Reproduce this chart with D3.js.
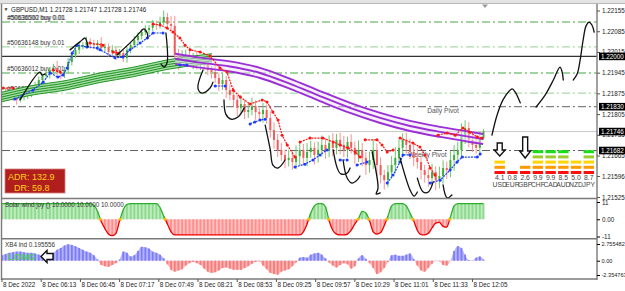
<!DOCTYPE html>
<html><head><meta charset="utf-8">
<script src="https://cdn.jsdelivr.net/npm/d3@7"></script>
<style>
html,body{margin:0;padding:0;background:#fff;}
svg{display:block;font-family:"Liberation Sans",Arial,sans-serif;}
</style></head><body>
<svg id="c" width="625" height="291"></svg>
<script>
// ---------------- DATA ----------------
const symbol = "GBPUSD,M1";
const headerOHLC = ["1.21728","1.21747","1.21728","1.21746"];
const firstOpen = 1.21866;
const closes = [1.21870,1.21880,1.21866,1.21859,1.21853,1.21863,1.21866,1.21876,1.21886,1.21900,
 1.21920,1.21934,1.21941,1.21954,1.21961,1.21947,1.21941,1.21954,1.21981,1.22005,
 1.22022,1.22035,1.22038,1.22049,1.22042,1.22038,1.22045,1.22028,1.22032,1.22015,
 1.22022,1.22005,1.22011,1.21995,1.22022,1.22038,1.22055,1.22069,1.22082,1.22089,
 1.22096,1.22109,1.22106,1.22116,1.22133,1.22109,1.22103,1.22005,1.21981,1.21995,
 1.22005,1.21981,1.21998,1.21974,1.21988,1.21981,1.21954,1.21947,1.21927,1.21907,
 1.21920,1.21886,1.21870,1.21853,1.21826,1.21839,1.21812,1.21819,1.21832,1.21812,
 1.21805,1.21819,1.21792,1.21751,1.21718,1.21684,1.21667,1.21650,1.21657,1.21643,
 1.21663,1.21684,1.21657,1.21677,1.21691,1.21667,1.21684,1.21701,1.21684,1.21707,
 1.21691,1.21718,1.21701,1.21684,1.21711,1.21691,1.21667,1.21684,1.21657,1.21633,
 1.21650,1.21684,1.21633,1.21599,1.21582,1.21609,1.21633,1.21657,1.21691,1.21718,
 1.21701,1.21677,1.21657,1.21643,1.21616,1.21599,1.21589,1.21609,1.21582,1.21596,
 1.21623,1.21616,1.21650,1.21667,1.21684,1.21734,1.21758,1.21718,1.21701,1.21691,
 1.21724,1.21746];
// wick lengths in points (0.00001)
const wickUp = [10,14,8,12,10,16,9,12,10,14, 12,8,18,10,14,24,12,10,14,12, 16,12,10,18,12,14,10,20,12,12,
 16,10,14,12,10,8,14,12,10,16, 10,14,12,18,22,14,28,34,20,26, 18,24,14,20,16,12,20,14,24,18,
 22,14,20,26,16,30,14,22,28,20, 14,24,18,22,26,20,24,18,28,22, 36,26,20,30,24,18,28,32,22,26,
 34,20,24,30,18,26,22,32,24,20, 28,36,22,26,18,24,30,36,28,22, 24,20,26,32,22,18,24,28,20,32,
 26,22,30,34,28,40,26,20,24,30, 22,8];
const wickDn = [12,9,14,10,16,8,12,10,14,9, 10,14,9,16,12,10,18,14,10,12, 9,14,12,10,16,12,18,10,14,16,
 12,18,10,14,16,12,10,14,12,10, 14,10,16,12,10,18,14,20,26,18, 22,16,24,18,20,26,18,22,16,24,
 20,26,18,22,28,16,24,20,18,26, 22,28,20,26,30,24,20,28,22,26, 24,30,22,28,20,32,26,22,30,24,
 28,22,32,24,26,20,30,24,28,34, 26,30,36,28,32,24,22,28,20,26, 30,24,28,22,32,26,30,24,34,28,
 26,30,24,36,28,22,30,26,24,20, 18,6];

// moving-average ribbons: [bar, price]
const greenMA = [[0,1.21863],[7.6,1.21884],[17.7,1.21903],[26.7,1.21928],[35.6,1.21947],[44.9,1.21972],[53.9,1.21988],[57.1,1.21993]];
const greenOffsets = [-0.00016,-0.00008,0,0.00008,0.00016];
const purpleMA = [[47.1,1.21992],[53.9,1.21979],[62.0,1.21966],[70.2,1.21944],[78.4,1.21907],[86.5,1.21866],[94.7,1.21826],[102.9,1.21792],[111.0,1.21765],[119.2,1.21745],[127.3,1.21728],[130.9,1.21721]];
const purpleOffsets = [-0.00017,0,0.00017];

// trailing lines: segments of [bar, price]
const redTrail = [
 [[0.3,1.21893],[3,1.21893]],
 [[13.9,1.21954],[15.8,1.21947]],
 [[23.9,1.22045],[27.5,1.22038]],
 [[30.2,1.22015],[31.6,1.22011]],
 [[41.1,1.22109],[43.0,1.22106],[44.9,1.22096],[46.5,1.22082],[48.4,1.22062],[49.8,1.22038],[51.2,1.22022],[53.9,1.22015],[56.6,1.22001],[59.3,1.21961],[61.2,1.21947],[62.9,1.21886],[64.8,1.21863],[67.5,1.21839],[70.8,1.21853],[72.1,1.21846],[73.7,1.21812],[75.1,1.21785],[76.2,1.21734],[77.6,1.21701],[79.7,1.21660]],
 [[81.1,1.21711],[83.8,1.21724],[87.3,1.21724],[90.1,1.21711],[92.0,1.21701],[94.1,1.21691],[96.1,1.21677],[97.4,1.21660]],
 [[98.8,1.21718],[102.0,1.21718],[103.4,1.21701],[104.8,1.21677],[106.4,1.21684]],
 [[108.3,1.21724],[111.8,1.21707],[113.7,1.21694],[115.1,1.21667],[116.5,1.21623],[117.8,1.21599]],
 [[118.6,1.21734],[121.1,1.21741],[123.3,1.21734],[125.4,1.21758],[127.3,1.21744],[129.3,1.21728],[130.6,1.21724]]
];
const blueTrail = [
 [[3.5,1.21856],[8.4,1.21886],[11.2,1.21913],[13.1,1.21944],[15.2,1.21930],[16.6,1.21937],[17.7,1.21961],[19.1,1.22011],[20.4,1.22038],[23.1,1.22032],[25.9,1.22028],[26.7,1.22022],[30.7,1.21995],[32.9,1.21998],[34.8,1.22022],[37.6,1.22045],[39.5,1.22062],[41.1,1.22079],[43.8,1.22079]],
 [[48.4,1.21971],[50.3,1.21971]],
 [[58.0,1.21900],[60.7,1.21900]],
 [[67.5,1.21772],[68.8,1.21778],[70.2,1.21785],[71.6,1.21788]],
 [[79.7,1.21626],[82.4,1.21636],[84.6,1.21650],[86.5,1.21667],[88.4,1.21684]],
 [[92.0,1.21650],[93.9,1.21650]],
 [[96.6,1.21633],[99.3,1.21643]],
 [[104.8,1.21572],[106.4,1.21599],[108.3,1.21643],[109.1,1.21667],[111.0,1.21667]],
 [[116.5,1.21572],[119.2,1.21582],[121.9,1.21616],[123.8,1.21643],[125.2,1.21660],[129.3,1.21660],[130.1,1.21670]]
];
// hand-drawn strokes: [bar, price]
const scribbles = [
 [[4.9,1.21853],[10.3,1.21947],[10.9,1.21937],[11.7,1.21941]],
 [[18.5,1.22022],[21.2,1.22049],[22.6,1.22062],[23.1,1.22049],[23.4,1.22032]],
 [[31.3,1.22005],[35.6,1.22055],[37.6,1.22082],[38.6,1.22093],[39.5,1.22079],[39.7,1.22062]],
 [[44.6,1.22079],[44.9,1.21978],[44.1,1.21964],[43.3,1.21974]],
 [[54.7,1.21954],[53.3,1.21893],[54.4,1.21876],[56.6,1.21893],[57.4,1.21913]],
 [[60.4,1.21853],[60.9,1.21805],[62.3,1.21788],[64.2,1.21795],[65.9,1.21826]],
 [[71.6,1.21768],[73.0,1.21684],[73.7,1.21633],[75.1,1.21623],[77.0,1.21650]],
 [[90.1,1.21684],[91.2,1.21623],[92.2,1.21603],[93.9,1.21606],[94.7,1.21623]],
 [[92.8,1.21650],[93.9,1.21589],[95.2,1.21572],[96.6,1.21582],[97.4,1.21596]],
 [[100.7,1.21677],[102.3,1.21555],[101.8,1.21535],[102.9,1.21539]],
 [[108.3,1.21657],[111.0,1.21549],[112.1,1.21528],[113.0,1.21542]],
 [[113.0,1.21589],[114.6,1.21542],[116.0,1.21542],[117.3,1.21576]],
 [[120.0,1.21566],[121.1,1.21522],[122.4,1.21532]],
 [[133.3,1.21734],[134.7,1.21802],[136.3,1.21853],[138.0,1.21883],[138.8,1.21890],[139.6,1.21880],[141.0,1.21843]],
 [[145.3,1.21829],[147.8,1.21870],[150.0,1.21920],[151.8,1.21964],[152.4,1.21947],[152.7,1.21920]],
 [[155.4,1.21920],[156.5,1.21941],[157.3,1.21988],[158.1,1.22055],[158.9,1.22103],[159.7,1.22116],[160.5,1.22106],[161.1,1.22082]]
];

const orderPrices = [1.22116,1.22032,1.21944,1.21876];
const orderLabels = ["#50636500 buy 0.01","#50636148 buy 0.01","#50636012 buy 0.01","#50635876 buy 0.01"];
const orderKinds = ["dark","light","dark","light"];
const roundLevel = 1.22000;
const bidPrice = 1.21746;
const pivotPrices = [1.21830,1.21682];
const pivotNames = ["Daily Pivot","Weekly Pivot"];
const pivotLabelBars = [120.0,115.7];

const priceTicks = [1.22155,1.22085,1.22015,1.21945,1.21875,1.21805,1.21735,1.21665,1.21596,1.21525];
const markerPrices = [1.22000,1.21830,1.21746,1.21682];

const timeLabels = ["8 Dec 2022","8 Dec 06:13","8 Dec 06:45","8 Dec 07:17","8 Dec 07:49","8 Dec 08:21","8 Dec 08:53","8 Dec 09:25","8 Dec 09:57","8 Dec 10:29","8 Dec 11:01","8 Dec 11:33","8 Dec 12:05"];
const timeLabelMinutes = [0,32,64,96,128,160,192,224,256,288,320,352,384];
const barMinutes = 3;

const solarWind = [10,10,10,10,10,10,10,10,10,10, 10,10,10,10,10,10,10,10,10,10, 10,10,10,10,10,9,5,-1.5,-6,-9.5,
 -10.5,-9,-1,6,9.5,10,10,10,10,10, 10,10,10,7.5,2,-3,-8,-10,-10,-10,
 -10,-10,-10,-10,-10,-10,-10,-10,-10,-10, -10,-10,-10,-10,-10,-10,-10,-10,-10,-10,
 -10,-10,-10,-10,-10,-10,-10,-10,-10,-10, -10,-10,-8,-3,4,8.5,10,10,8,-1,
 -7,-9.5,-10,-10,-9.5,-7,-3,0.5,5,4, -1,-8,-9.5,-8.5,-4,2,8.5,10,10,10,
 8.5,4,-1,-7,-9.8,-10,-9,-5.5,-2.5,-2, -4.5,-5,1.5,8.5,10,10,10,10,10,10, 10,10];
const solarLabel = "Solar wind joy () 10.0000 10.0000 10.0000";
const solarTicks = [11,0,-11];
const solarTickLabels = ["11","0.00","-11"];

const xb4 = [0.9,1.1,1.3,1.4,1.5,1.5,1.4,1.3,1.3,1.2,
 1.0,0.8,0.5,0.8,1.3,1.8,2.1,2.5,2.7,2.6,
 2.4,2.1,1.8,1.5,1.3,0.9,0.2,-0.7,-0.9,-1.0,
 -0.7,-0.4,0.2,1.5,1.3,0.7,0.9,1.6,2.3,2.2,
 2.0,1.5,1.3,1.0,0.4,-0.6,-1.5,-1.8,-1.6,-1.4,
 -0.8,-0.4,-0.2,-0.4,-0.7,-1.3,-1.8,-2.0,-1.9,-1.6,
 -1.2,-1.1,-1.3,-1.5,-1.5,-1.5,-1.2,-0.9,-0.5,-0.2,
 -0.1,-0.8,-1.4,-2.0,-2.2,-2.3,-1.8,-1.6,-1.4,-0.9,
 -0.3,0.5,0.6,0.5,1.0,1.2,1.3,1.0,0.4,-0.3,
 -0.8,-1.1,-0.7,-0.4,-0.6,-1.3,-0.9,0.4,0.9,0.3,
 -0.4,-1.2,-2.2,-1.9,-1.2,-0.2,0.9,1.0,0.8,0.8,
 1.0,1.2,0.3,-0.8,-1.6,-1.8,-1.2,-0.5,-0.05,-0.1,
 -0.7,-0.8,0.0,1.6,2.4,2.1,1.0,0.1,0.05,0.5,
 0.7,0.195556];
const xb4Label = "XB4 ind 0.195556";
const xb4Range = [-2.354763,2.755482];
const xb4Ticks = [2.755482,0,-2.354763];
const xb4TickLabels = ["2.755482","0.00","-2.354763"];
const signalText = "LONG";

const adrLines = ["ADR: 132.9","DR: 59.8"];

const currencies = ["USD","EUR","GBP","CHF","CAD","AUD","NZD","JPY"];
const strength = [4.1,0.8,2.6,9.9,9.9,8.5,5.0,8.7];
const levelColors = ["#ff1010","#ff9a00","#ffd400","#9ccc30","#18e018"];
const arrowCurrencies = ["USD","GBP"];

// ---------------- DRAW ----------------
const svg = d3.select("#c");
const FONT = 6.3;
const x = d3.scaleLinear().domain([0,131]).range([2,483.5]);
const y = d3.scaleLinear().domain([1.21525,1.22155]).range([197,10.5]);
const ys = d3.scaleLinear().domain([-11,11]).range([236.5,202]);
const yx = d3.scaleLinear().domain(xb4Range).range([275,244]);

const defs = svg.append("defs");
defs.append("clipPath").attr("id","clipMain").append("rect").attr("x",2).attr("y",4).attr("width",595).attr("height",194);
defs.append("clipPath").attr("id","clipSolar").append("rect").attr("x",2).attr("y",199.5).attr("width",595).attr("height",38);
defs.append("clipPath").attr("id","clipSolarPos").append("rect").attr("x",0).attr("y",199).attr("width",600).attr("height",ys(0)-199);
defs.append("clipPath").attr("id","clipSolarNeg").append("rect").attr("x",0).attr("y",ys(0)).attr("width",600).attr("height",239-ys(0));

// window chrome
svg.append("rect").attr("x",0).attr("y",0).attr("width",625).attr("height",3).attr("fill","#e4e4e4");
svg.append("line").attr("x1",0).attr("x2",625).attr("y1",3.5).attr("y2",3.5).attr("stroke","#b8b8b8");

const main = svg.append("g").attr("clip-path","url(#clipMain)");
const dashDot = "8,3,2,3";

// horizontal levels
main.selectAll("line.order").data(orderPrices).join("line")
  .attr("x1",2).attr("x2",597).attr("y1",d=>y(d)).attr("y2",d=>y(d))
  .attr("stroke",(d,i)=>orderKinds[i]==="dark"?"#45a845":"#a9daa9").attr("stroke-width",1.1).attr("stroke-dasharray",dashDot);
main.selectAll("line.pivot").data(pivotPrices).join("line")
  .attr("x1",2).attr("x2",597).attr("y1",d=>y(d)).attr("y2",d=>y(d))
  .attr("stroke","#606060").attr("stroke-width",1).attr("stroke-dasharray",dashDot);
main.append("line").attr("x1",2).attr("x2",597).attr("y1",y(bidPrice)).attr("y2",y(bidPrice)).attr("stroke","#c8c8c8").attr("stroke-width",1);
main.append("line").attr("x1",2).attr("x2",597).attr("y1",y(roundLevel)).attr("y2",y(roundLevel)).attr("stroke","#333").attr("stroke-width",1.3);

// order labels
main.selectAll("text.order").data(orderPrices).join("text")
  .attr("x",7).attr("y",d=>y(d)-2).attr("font-size",FONT).attr("fill","#333")
  .text((d,i)=>orderLabels[i]);
main.append("text").attr("x",8).attr("y",y(orderPrices[0])-2.5).attr("font-size",FONT).attr("fill","#333").attr("opacity",0.7).text("#50636362 buy 0.01");
main.selectAll("text.pivot").data(pivotPrices).join("text")
  .attr("x",(d,i)=>x(pivotLabelBars[i])).attr("y",d=>y(d)+6.5).attr("font-size",FONT+0.4).attr("fill","#555")
  .attr("text-anchor","middle").text((d,i)=>pivotNames[i]);

// candles
const bars = closes.map((c,i)=>{const o=i?closes[i-1]:firstOpen;return {i,o,c,h:Math.max(o,c)+wickUp[i]*1e-5,l:Math.min(o,c)-wickDn[i]*1e-5};});
const cg = main.append("g");
cg.selectAll("line").data(bars).join("line")
  .attr("x1",d=>x(d.i)).attr("x2",d=>x(d.i)).attr("y1",d=>y(d.h)).attr("y2",d=>y(d.l))
  .attr("stroke",d=>d.c>=d.o?"#6cc46c":"#f79494").attr("stroke-width",1);
cg.selectAll("rect").data(bars).join("rect")
  .attr("x",d=>x(d.i)-1).attr("width",2)
  .attr("y",d=>y(Math.max(d.o,d.c))).attr("height",d=>Math.max(1,Math.abs(y(d.o)-y(d.c))))
  .attr("fill",d=>d.c>=d.o?"#3fae3f":"#f25c5c");

// ribbons
const smooth = d3.line().x(d=>x(d[0])).y(d=>y(d[1])).curve(d3.curveMonotoneX);
const shift = (pts,off)=>pts.map(p=>[p[0],p[1]+off]);
const ribbonArea = (pts,lo,hi)=>d3.area().x(d=>x(d[0])).y0(d=>y(d[1]+lo)).y1(d=>y(d[1]+hi)).curve(d3.curveMonotoneX)(pts);
main.append("path").attr("d",ribbonArea(greenMA,greenOffsets[0],greenOffsets[greenOffsets.length-1])).attr("fill","#a8dca8");
greenOffsets.forEach(o=>main.append("path").attr("d",smooth(shift(greenMA,o))).attr("fill","none").attr("stroke","#1f951f").attr("stroke-width",1));
main.append("path").attr("d",ribbonArea(purpleMA,purpleOffsets[0],purpleOffsets[purpleOffsets.length-1])).attr("fill","#f0e2f8").attr("opacity",0.5);
purpleOffsets.forEach(o=>main.append("path").attr("d",smooth(shift(purpleMA,o))).attr("fill","none").attr("stroke","#9a2fd6").attr("stroke-width",1.9));

// trailing lines
const lin = d3.line().x(d=>x(d[0])).y(d=>y(d[1]));
function trail(segs,color){
  segs.forEach(s=>{
    main.append("path").attr("d",lin(s)).attr("fill","none").attr("stroke",color).attr("stroke-width",1.2).attr("stroke-dasharray","2,1");
    main.selectAll(null).data(s).join("circle").attr("cx",d=>x(d[0])).attr("cy",d=>y(d[1])).attr("r",1.5).attr("fill",color);
  });
}
trail(redTrail,"#ff1414");
trail(blueTrail,"#1a3cff");

// hand-drawn strokes
const freehand = d3.line().x(d=>x(d[0])).y(d=>y(d[1])).curve(d3.curveCatmullRom.alpha(0.5));
scribbles.forEach(s=>main.append("path").attr("d",freehand(s)).attr("fill","none").attr("stroke","#111").attr("stroke-width",1.3).attr("stroke-linecap","round"));

// ADR box
svg.append("rect").attr("x",5).attr("y",169).attr("width",60).attr("height",24).attr("fill","#b01e1e").attr("stroke","#d88080").attr("stroke-width",0.8);
svg.selectAll("text.adr").data(adrLines).join("text")
  .attr("x",(d,i)=>i?14:8).attr("y",(d,i)=>180+i*11).attr("font-size",9).attr("fill","#ffd21a").text(d=>d);

// currency strength meter
const xb = d3.scaleBand().domain(currencies).range([494.5,594]).paddingInner(0.18);
const cells = [];
currencies.forEach((c,i)=>{const n=Math.min(5,Math.ceil(strength[i]/2));for(let r=0;r<n;r++)cells.push({c,r});});
svg.selectAll("rect.cell").data(cells).join("rect")
  .attr("x",d=>xb(d.c)).attr("width",xb.bandwidth()).attr("y",d=>171-d.r*5.2).attr("height",3)
  .attr("fill",d=>levelColors[d.r]);
svg.selectAll("text.str").data(strength).join("text")
  .attr("x",(d,i)=>xb(currencies[i])+xb.bandwidth()/2).attr("y",180).attr("text-anchor","middle")
  .attr("font-size",FONT+0.5).attr("fill","#444").text(d=>d.toFixed(1));
svg.selectAll("text.cur").data(currencies).join("text")
  .attr("x",d=>xb(d)+xb.bandwidth()/2).attr("y",187).attr("text-anchor","middle")
  .attr("font-size",FONT+0.5).attr("fill","#444").text(d=>d);
function downArrow(cx,top,neck,tip,sw,hw){
  return `M${cx-sw/2},${top}H${cx+sw/2}V${neck}H${cx+hw/2}L${cx},${tip}L${cx-hw/2},${neck}H${cx-sw/2}Z`;
}
arrowCurrencies.forEach((c,k)=>{
  const cx = xb(c)+xb.bandwidth()/2;
  const d = k===0 ? downArrow(cx,143,150,156,5,11) : downArrow(cx,137,151,158,5,11);
  svg.append("path").attr("d",d).attr("fill","#fff").attr("stroke","#111").attr("stroke-width",1.4).attr("stroke-linejoin","miter");
});

// top marker
svg.append("path").attr("d","M482,4.5H488L485,8Z").attr("fill","#9a9a9a");

// header
svg.append("text").attr("x",3.5).attr("y",11).attr("font-size",5).attr("fill","#333").text("▼");
svg.append("text").attr("x",11).attr("y",11.5).attr("font-size",FONT).attr("fill","#222")
  .text(symbol+"  "+headerOHLC.join(" "));

// ---- Solar wind panel ----
const solar = svg.append("g").attr("clip-path","url(#clipSolar)");
const sArea = d3.area().x((d,i)=>x(i)).y0(ys(0)).y1(d=>ys(d)).curve(d3.curveMonotoneX);
solar.append("path").attr("d",sArea(solarWind)).attr("fill","#bdecbd").attr("clip-path","url(#clipSolarPos)");
solar.append("path").attr("d",sArea(solarWind)).attr("fill","#ffc0c0").attr("clip-path","url(#clipSolarNeg)");
solar.selectAll("rect").data(solarWind).join("rect")
  .attr("x",(d,i)=>x(i)-0.9).attr("width",1.8)
  .attr("y",d=>Math.min(ys(d),ys(0))).attr("height",d=>Math.abs(ys(d)-ys(0)))
  .attr("fill",d=>d>=0?"#8fd88f":"#ff8e8e");
const sLine = d3.line().x((d,i)=>x(i)).y(d=>ys(d)).curve(d3.curveMonotoneX);
solar.append("path").attr("d",sLine(solarWind)).attr("fill","none").attr("stroke","#2cb02c").attr("stroke-width",1.3).attr("clip-path","url(#clipSolarPos)");
solar.append("path").attr("d",sLine(solarWind)).attr("fill","none").attr("stroke","#ee0000").attr("stroke-width",1.3).attr("clip-path","url(#clipSolarNeg)");
const crossings=[];
solarWind.forEach((v,i)=>{if(i&&Math.sign(v)!==Math.sign(solarWind[i-1])){const a=solarWind[i-1];crossings.push(i-1+a/(a-v));}});
solar.selectAll("circle").data(crossings).join("circle").attr("cx",d=>x(d)).attr("cy",ys(0)).attr("r",1.6).attr("fill","#ffb400");
svg.append("text").attr("x",5).attr("y",207).attr("font-size",FONT).attr("fill","#333").text(solarLabel);

// ---- XB4 panel ----
const xg = svg.append("g");
const xArea = d3.area().x((d,i)=>x(i)).y0(yx(0)).y1(d=>yx(d)).curve(d3.curveMonotoneX);
defs.append("clipPath").attr("id","clipXPos").append("rect").attr("x",0).attr("y",240).attr("width",600).attr("height",yx(0)-240);
defs.append("clipPath").attr("id","clipXNeg").append("rect").attr("x",0).attr("y",yx(0)).attr("width",600).attr("height",279-yx(0));
xg.append("path").attr("d",xArea(xb4)).attr("fill","#b4b4ff").attr("clip-path","url(#clipXPos)");
xg.append("path").attr("d",xArea(xb4)).attr("fill","#ffb4b4").attr("clip-path","url(#clipXNeg)");
xg.selectAll("rect").data(xb4).join("rect")
  .attr("x",(d,i)=>x(i)-0.9).attr("width",1.8)
  .attr("y",d=>Math.min(yx(d),yx(0))).attr("height",d=>Math.abs(yx(d)-yx(0)))
  .attr("fill",d=>d>=0?"#7c7cf4":"#f47c7c");
svg.append("text").attr("x",5).attr("y",247).attr("font-size",FONT).attr("fill","#333").text(xb4Label);
svg.append("text").attr("x",8).attr("y",259.5).attr("font-size",9.5).attr("fill","#40d840").attr("font-weight","bold").attr("opacity",0.85).text(signalText);
svg.append("path").attr("d","M41,256.5L47,250.5V253.5H53V259.5H47V262.5Z").attr("fill","#fff").attr("stroke","#111").attr("stroke-width",1.4);

// ---- frames ----
const frame = svg.append("g").attr("stroke","#7a7a7a").attr("stroke-width",1.4);
frame.append("line").attr("x1",597).attr("x2",597).attr("y1",4).attr("y2",280);
frame.append("line").attr("x1",1.5).attr("x2",1.5).attr("y1",4).attr("y2",280);
[198.5,238.8,279].forEach(v=>frame.append("line").attr("x1",1).attr("x2",597).attr("y1",v).attr("y2",v));

// ---- price axis ----
const ax = svg.append("g").attr("transform","translate(597,0)")
  .call(d3.axisRight(y).tickValues(priceTicks).tickFormat(d=>d.toFixed(5)).tickSize(3).tickPadding(2));
ax.select(".domain").remove();
ax.selectAll("text").attr("font-size",FONT).attr("fill","#222").attr("font-family","Liberation Sans, Arial, sans-serif");
ax.selectAll("line").attr("stroke","#555");
const mk = svg.selectAll("g.mk").data(markerPrices).join("g").attr("transform",d=>`translate(598,${y(d)})`);
mk.append("rect").attr("x",1).attr("y",-3.8).attr("width",26).attr("height",7.6).attr("fill","#000");
mk.append("text").attr("x",3).attr("y",2.3).attr("font-size",FONT).attr("fill","#fff").text(d=>d.toFixed(5));

const sax = svg.append("g").attr("transform","translate(597,0)")
  .call(d3.axisRight(ys).tickValues(solarTicks).tickFormat((d,i)=>solarTickLabels[i]).tickSize(3).tickPadding(2));
sax.select(".domain").remove();
sax.selectAll("text").attr("font-size",FONT).attr("fill","#222");
const xax = svg.append("g").attr("transform","translate(597,0)")
  .call(d3.axisRight(yx).tickValues(xb4Ticks).tickFormat((d,i)=>xb4TickLabels[i]).tickSize(3).tickPadding(1.5));
xax.select(".domain").remove();
xax.selectAll("text").attr("font-size",5.6).attr("fill","#222");

// ---- time axis ----
const tg = svg.selectAll("g.t").data(timeLabels).join("g")
  .attr("transform",(d,i)=>`translate(${x(timeLabelMinutes[i]/barMinutes)},0)`);
tg.append("line").attr("x1",0).attr("x2",0).attr("y1",279).attr("y2",282).attr("stroke","#555");
tg.append("text").attr("x",1).attr("y",287).attr("font-size",FONT).attr("fill","#222").text(d=>d);
</script>
</body></html>
